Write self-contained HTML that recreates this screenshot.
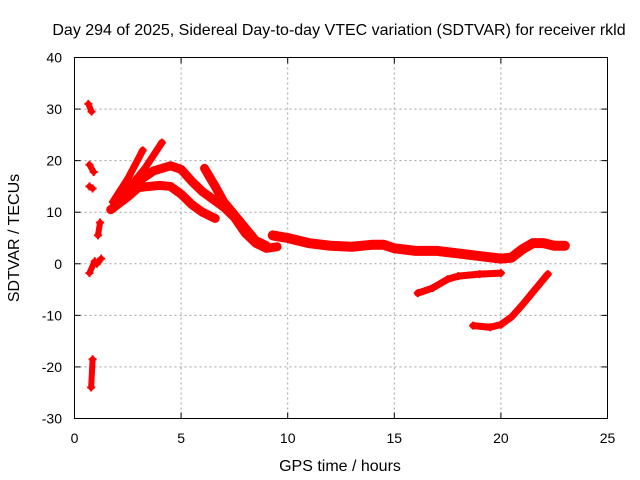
<!DOCTYPE html>
<html><head><meta charset="utf-8"><style>
body{margin:0;background:#fff}
svg{display:block;font-family:"Liberation Sans",sans-serif}
</style></head><body>
<svg id="chart" width="640" height="480">
<rect width="640" height="480" fill="#fff"/>
<text x="339" y="35" text-anchor="middle" font-size="16">Day 294 of 2025, Sidereal Day-to-day VTEC variation (SDTVAR) for receiver rkld</text>
<text x="340" y="471" text-anchor="middle" font-size="16">GPS time / hours</text>
<text transform="translate(19,238) rotate(-90)" text-anchor="middle" font-size="16">SDTVAR / TECUs</text>
<g id="grid"></g><g id="ticks"></g><g id="series"></g>
<rect x="74.5" y="57.5" width="533" height="361" fill="none" stroke="#000"/>
</svg>
<script>
const xTicks=[0,5,10,15,20,25];
const yTicks=[-30,-20,-10,0,10,20,30,40];
const trackA=[[0.65,31],[0.8,29.5]];
const trackB=[[0.7,19.2],[0.9,17.8]];
const trackC=[[0.7,15],[0.85,14.6]];
const trackD=[[0.7,-1.8],[0.95,0.5]];
const trackE=[[0.78,-24],[0.85,-18.5]];
const trackF=[[1.1,5.5],[1.2,8]];
const trackG=[[1.05,0],[1.25,1]];
const trackH=[[1.8,12],[2.5,16.5],[3.2,22]];
const trackI=[[2.4,14],[3.3,18.5],[4.1,23.5]];
const trackJ=[[1.7,10.5],[2.5,13],[3,14.8],[4,15.2],[4.5,15],[5,13.5],[5.5,11.5],[6,10],[6.6,8.8]];
const trackK=[[1.9,12],[3,16],[3.7,18],[4.5,19],[5,18.3],[5.5,16],[6,14],[6.5,12.5],[7,11],[7.5,9],[8,6],[8.5,4],[9,3],[9.5,3.3]];
const trackL=[[6.1,18.5],[6.6,15],[7,12],[7.5,9.5],[8,7],[8.5,4.5],[9,3.5]];
const trackM=[[9.3,5.5],[10,5],[10.5,4.5],[11,4],[12,3.5],[13,3.3],[14,3.7],[14.5,3.7],[15,3],[16,2.5],[17,2.5],[18,2],[19,1.5],[20,1],[20.5,1.2],[21,2.8],[21.5,4],[22,4],[22.5,3.5],[23,3.5]];
const trackN=[[16.1,-5.7],[16.8,-4.7],[17.5,-3],[18,-2.4],[19,-2],[20,-1.8]];
const trackO=[[18.7,-12],[19.5,-12.3],[20,-11.8],[20.5,-10.3],[21,-8],[21.5,-5.5],[22.2,-2]];
const tracks=[trackA,trackB,trackC,trackD,trackE,trackF,trackG,trackH,trackI,trackJ,trackK,trackL,trackM,trackN,trackO];
const widths=[6,6,6,6,6,6,6,7,7,9,9,9,10,7,7];
const X=v=>74.5+v*533/25;
const Y=v=>418.5-(v+30)*361/70;
const NS="http://www.w3.org/2000/svg";
function mk(t,a,p){const e=document.createElementNS(NS,t);for(const k in a)e.setAttribute(k,a[k]);p.appendChild(e);return e;}
const grid=document.getElementById('grid'),ticks=document.getElementById('ticks'),ser=document.getElementById('series');
xTicks.forEach(t=>{
  if(t>0&&t<25){const g=mk('line',{x1:X(t),x2:X(t),y1:57.5,y2:418.5,stroke:'#a0a0a0','stroke-dasharray':'2,3'},grid);
  
  }
  mk('line',{x1:X(t),x2:X(t),y1:418.5,y2:412.5,stroke:'#000'},ticks);
  mk('line',{x1:X(t),x2:X(t),y1:57.5,y2:63.5,stroke:'#000'},ticks);
  const l=mk('text',{x:X(t),y:443,'text-anchor':'middle','font-size':14},ticks);l.textContent=t;
  
  
});
yTicks.forEach(t=>{
  if(t>-30&&t<40){const g=mk('line',{x1:74.5,x2:607.5,y1:Y(t),y2:Y(t),stroke:'#a0a0a0','stroke-dasharray':'2,3'},grid);
  
  }
  mk('line',{x1:74.5,x2:80.5,y1:Y(t),y2:Y(t),stroke:'#000'},ticks);
  mk('line',{x1:607.5,x2:601.5,y1:Y(t),y2:Y(t),stroke:'#000'},ticks);
  const l=mk('text',{x:62,y:Y(t)+5,'text-anchor':'end','font-size':14},ticks);l.textContent=t;
  
  
});
tracks.forEach((tr,i)=>{
  const pl=mk('polyline',{points:tr.map(p=>X(p[0])+','+Y(p[1])).join(' '),fill:'none',stroke:'#f00','stroke-width':widths[i],'stroke-linecap':'round','stroke-linejoin':'round'},ser);
  
  
  tr.forEach(p=>{
    const m=mk('path',{d:`M${X(p[0])-4},${Y(p[1])}h8M${X(p[0])},${Y(p[1])-4}v8`,stroke:'#f00','stroke-width':2},ser);
    
    
  });
});
</script>
</body></html>
